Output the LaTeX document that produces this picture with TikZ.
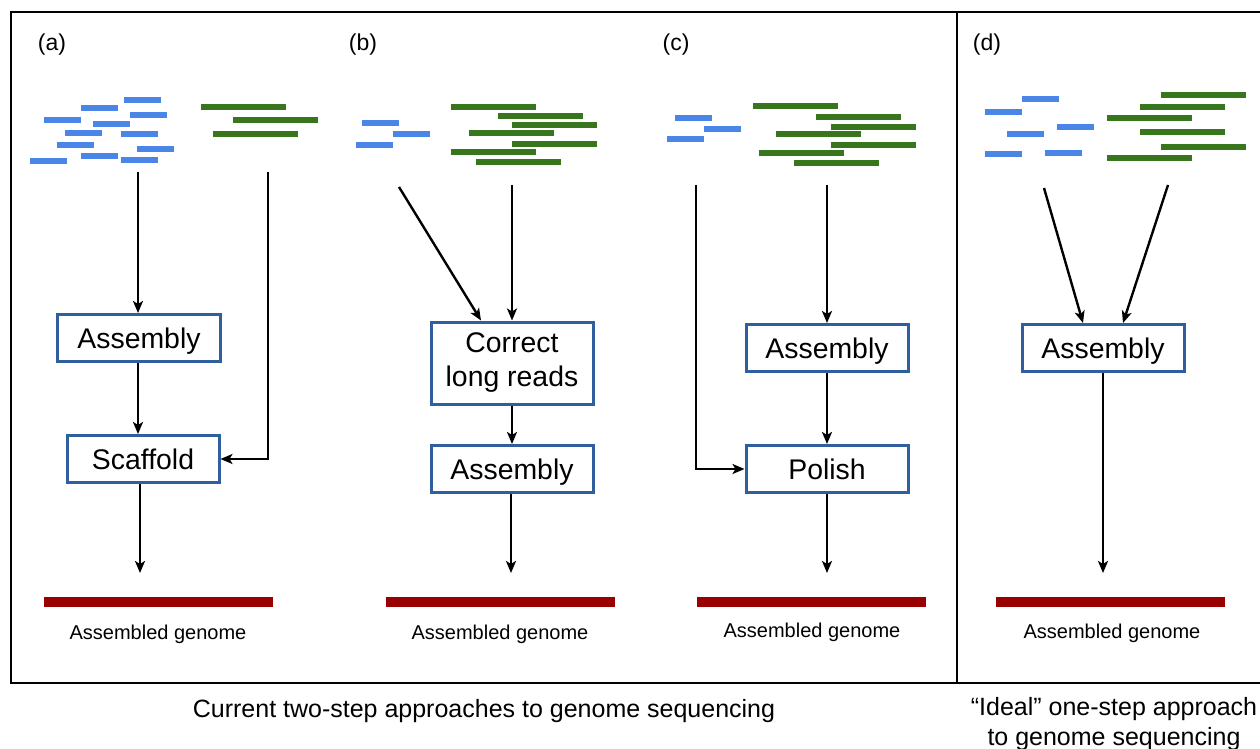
\documentclass[tikz,border=0pt]{standalone}
\usepackage{fontspec}
\setmainfont{Liberation Sans}
\usepackage{xcolor}
\usepackage{tikz}
\usetikzlibrary{arrows.meta}
\definecolor{shortcol}{RGB}{74,134,232}
\definecolor{longcol}{RGB}{56,118,29}
\definecolor{genomecol}{RGB}{153,0,0}
\definecolor{boxcol}{RGB}{47,95,159}
\tikzstyle{frame}=[line width=1.1pt]
\tikzstyle{shortread}=[shortcol,line width=2.6pt]
\tikzstyle{longread}=[longcol,line width=3pt]
\tikzstyle{genome}=[fill=genomecol,inner sep=0pt,minimum height=5pt,minimum width=114.5pt]
\tikzstyle{stepbox}=[draw=boxcol,line width=1.5pt,inner sep=0pt,minimum width=81pt,minimum height=23.5pt,font=\fontsize{14.2}{17}\selectfont,align=center,text height=10.2pt,text depth=0pt]
\tikzstyle{flowhead}=[>/.tip={Stealth[length=6pt,width=5pt,inset=1.5pt]}]
\tikzstyle{flow}=[line width=1.2pt,flowhead,->]
\tikzstyle{panel}=[font=\fontsize{11.5}{14}\selectfont]
\tikzstyle{result}=[font=\fontsize{10}{12}\selectfont]
\tikzstyle{caption}=[font=\fontsize{12.5}{15}\selectfont,align=center]
\newcommand\shortlen{37}
\newcommand\longlen{85}

\begin{document}
\begin{tikzpicture}[x=0.5pt,y=-0.5pt]
	\useasboundingbox (0,0) rectangle (1260,749);
	\draw[frame] (1262,12) -| (11,683) -- (1262,683);
	\draw[frame] (957,12) -- (957,683);
	% panel letters
	\node[panel] (a) at (52,45) {(a)};
	\node[panel] (b) at (363,45) {(b)};
	\node[panel] (c) at (676,45) {(c)};
	\node[panel] (d) at (987,45) {(d)};
	% reads
	\foreach \x/\y in {124/100,81/108,130/115,44/120,93/124,65/133,121/134,57/145,137/149,81/156,30/161,121/160,
		362/123,393/134,356/145, 675/118,704/129,667/139,
		1022/99,985/112,1057/127,1007/134,985/154,1045/153}
		\draw[shortread] (\x,\y) -- ++(\shortlen,0);
	\foreach \x/\y in {201/107,233/120,213/134,
		451/107,498/116,512/125,469/133,512/144,451/152,476/162,
		753/106,816/117,831/127,776/134,831/145,759/153,794/163,
		1161/95,1140/107,1107/118,1140/132,1161/147,1107/158}
		\draw[longread] (\x,\y) -- ++(\longlen,0);
	% (a)
	\node[stepbox,minimum width=81.5pt] (a-asm) at (139,338) {Assembly};
	\node[stepbox,minimum width=76pt] (a-scf) at (143,459) {Scaffold};
	\node[genome] (a-gen) at (158,602) {};
	\node[result] (a-res) at (158,634) {Assembled genome};
	\coordinate (a-short) at (138,172);
	\coordinate (a-long) at (268,172);
	\coordinate (a-stop) at (140,573);
	\draw[flow] (a-short) -- (a-short |- a-asm.north);
	\draw[flow] (a-short |- a-asm.south) -- (a-short |- a-scf.north);
	\draw[flow] (a-long) |- (a-scf.east);
	\draw[flow] (a-stop |- a-scf.south) -- (a-stop);
	% (b)
	\node[stepbox,minimum height=41pt,text height=,text depth=] (b-cor) at (512,363) {Correct\\long reads};
	\node[stepbox] (b-asm) at (512,469) {Assembly};
	\node[genome] (b-gen) at (500,602) {};
	\node[result] (b-res) at (500,634) {Assembled genome};
	\coordinate (b-short) at (399,187);
	\coordinate (b-long) at (512,185);
	\coordinate (b-stop) at (511,573);
	\draw[flow] (b-short) -- ([xshift=-15.5pt]b-cor.north);
	\draw[flow] (b-long) -- (b-cor.north);
	\draw[flow] (b-cor) -- (b-asm);
	\draw[flow] (b-stop |- b-asm.south) -- (b-stop);
	% (c)
	\node[stepbox] (c-asm) at (827,348) {Assembly};
	\node[stepbox] (c-pol) at (827,469) {Polish};
	\node[genome] (c-gen) at (811,602) {};
	\node[result] (c-res) at (812,632) {Assembled genome};
	\coordinate (c-short) at (696,185);
	\coordinate (c-long) at (827,185);
	\coordinate (c-stop) at (827,573);
	\draw[flow] (c-short) |- (c-pol.west);
	\draw[flow] (c-long) -- (c-asm.north);
	\draw[flow] (c-asm) -- (c-pol);
	\draw[flow] (c-pol) -- (c-stop);
	% (d)
	\node[stepbox] (d-asm) at (1103,348) {Assembly};
	\node[genome] (d-gen) at (1110,602) {};
	\node[result] (d-res) at (1112,633) {Assembled genome};
	\coordinate (d-short) at (1044,188);
	\coordinate (d-long) at (1168,185);
	\coordinate (d-stop) at (1103,573);
	\draw[flow] (d-short) -- ([xshift=-10pt]d-asm.north);
	\draw[flow] (d-long) -- ([xshift=10pt]d-asm.north);
	\draw[flow] (d-asm) -- (d-stop);
	% captions
	\node[caption] (two-step) at (484,711) {Current two-step approaches to genome sequencing};
	\node[caption] (one-step) at (1114,724) {“Ideal” one-step approach\\to genome sequencing};
\end{tikzpicture}
\end{document}
